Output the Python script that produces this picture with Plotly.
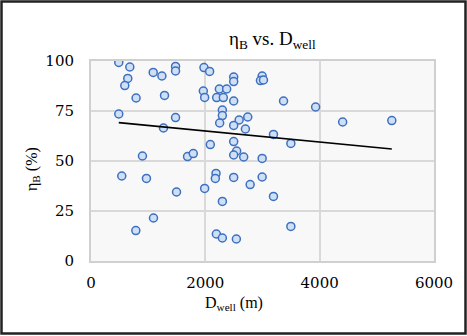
import plotly.graph_objects as go

# Data
d_well = [486, 679, 643, 591, 789, 1088, 1240, 1479, 1479, 1286,
          486, 1479, 1268, 1976, 2075, 1965, 1988, 2087, 900, 1689,
          1789, 538, 970, 1496, 1988, 1093, 784, 2496, 2496, 2994,
          2964, 3017, 2245, 2373, 2198, 2315, 2496, 3368, 3929, 2298,
          2298, 2251, 2591, 2742, 2496, 2701, 3192, 3496, 2496, 2548,
          2496, 2671, 2994, 4402, 5262, 2187, 2175, 2496, 2994, 2784,
          2298, 3192, 3496, 2193, 2298, 2543]
eta_b = [99.3, 97.0, 91.3, 87.7, 81.5, 94.3, 92.5, 97.3, 95.0, 82.8,
         73.5, 71.7, 66.5, 96.7, 94.8, 85.0, 81.8, 58.2, 52.5, 52.2,
         53.7, 42.5, 41.3, 34.5, 36.3, 21.5, 15.2, 92.0, 89.7, 92.5,
         90.2, 90.5, 86.0, 86.0, 81.7, 81.7, 80.0, 80.0, 77.0, 75.5,
         72.7, 69.0, 70.5, 72.0, 67.8, 66.0, 63.3, 58.8, 59.7, 55.0,
         53.0, 52.0, 51.3, 69.5, 70.2, 43.8, 41.3, 41.8, 42.0, 38.2,
         29.8, 32.3, 17.3, 13.5, 11.5, 11.0]

trend_x = [486, 5262]
trend_y = [69.2, 56.0]

x_ticks = [0, 2000, 4000, 6000]
y_ticks = [0, 25, 50, 75, 100]

FONT = "'Liberation Serif', 'Times New Roman', serif"
TICKFONT = dict(family="'DejaVu Serif', serif", size=15, color="black")

fig = go.Figure()
fig.add_trace(go.Scatter(
    x=d_well, y=eta_b, mode="markers",
    marker=dict(size=8, color="#cfdff5",
                line=dict(color="#3d70bf", width=1.5)),
    showlegend=False))
fig.add_trace(go.Scatter(
    x=trend_x, y=trend_y, mode="lines",
    line=dict(color="black", width=1.6), showlegend=False))

L, R, T, B = 91, 33, 61, 75
W, H = 467, 336
pw, ph = W - L - R, H - T - B

fig.update_layout(
    width=W, height=H,
    margin=dict(l=L, r=R, t=T, b=B),
    paper_bgcolor="white", plot_bgcolor="#f8f8f8",
    font=dict(family=FONT, size=17, color="black"),
    xaxis=dict(range=[0, 6000], tickvals=x_ticks, showgrid=True,
               gridcolor="#d9d9d9", gridwidth=1.5, zeroline=False,
               showline=True, linecolor="#d0d0d0", linewidth=2, mirror=True,
               ticks="", ticklabelstandoff=7, tickfont=TICKFONT),
    yaxis=dict(range=[0, 100], tickvals=y_ticks, showgrid=True,
               gridcolor="#d9d9d9", gridwidth=1.5, zeroline=False,
               showline=True, linecolor="#d0d0d0", linewidth=2, mirror=True,
               ticks="", ticklabelstandoff=12, tickfont=TICKFONT),
    annotations=[
        dict(text="η<sub>B</sub> vs. D<sub>well</sub>", xref="paper", yref="paper",
             x=(272 - L) / pw, y=1 + (61 - 40) / ph, xanchor="center", yanchor="middle",
             showarrow=False, font=dict(family=FONT, size=19)),
        dict(text="D<sub>well</sub> (m)", xref="paper", yref="paper",
             x=(234 - L) / pw, y=-(303 - (H - B)) / ph, xanchor="center", yanchor="middle",
             showarrow=False, font=dict(family=FONT, size=16)),
        dict(text="η<sub>B</sub> (%)", xref="paper", yref="paper", textangle=-90,
             x=-(L - 32) / pw, y=(H - B - 169) / ph, xanchor="center", yanchor="middle",
             showarrow=False, font=dict(family=FONT, size=16)),
    ],
    shapes=[dict(type="rect", xref="paper", yref="paper",
                 x0=-(L - 1.5) / pw, x1=1 + (R - 1.5) / pw,
                 y0=-(B - 2.5) / ph, y1=1 + (T - 1.5) / ph,
                 line=dict(color="#222222", width=2.5), layer="above")],
)

fig.write_html("out.html")
